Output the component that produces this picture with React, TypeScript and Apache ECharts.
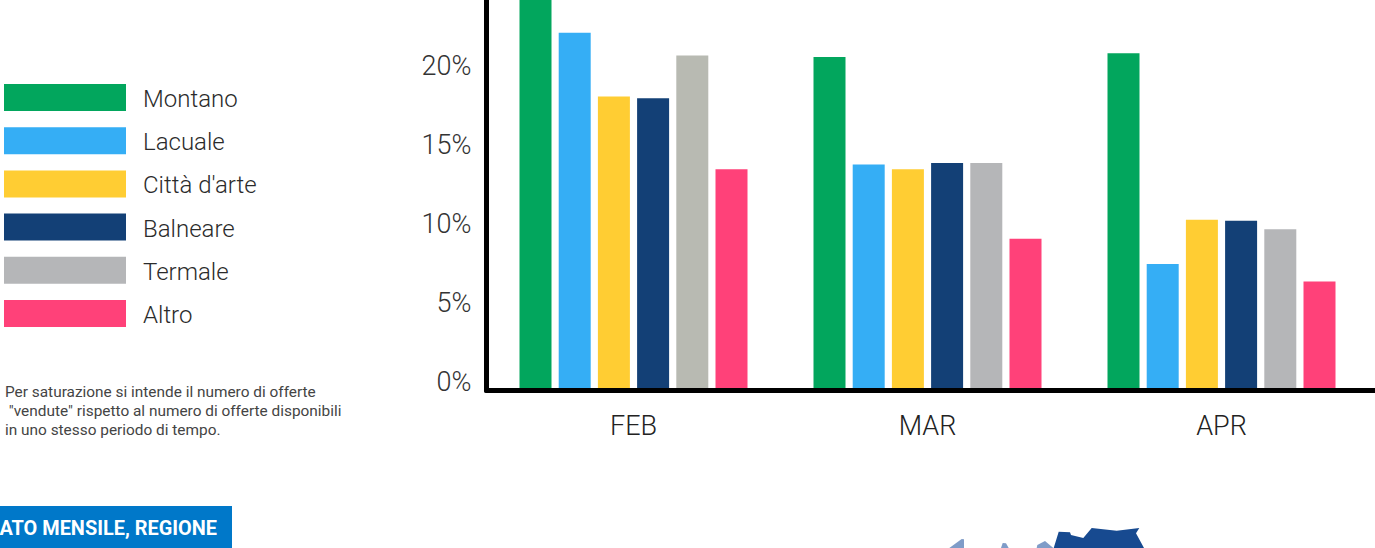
import React, { useEffect, useRef } from "react";
import * as echarts from "echarts";

const categories = ["FEB", "MAR", "APR"];
const seriesNames = ["Montano", "Lacuale", "Città d'arte", "Balneare", "Termale", "Altro"];
const colors = ["#02A65D", "#35AEF5", "#FFCD33", "#134076", "#B5B6B8", "#FF4179"];
const montano = [25, 21.1, 21.35];
const lacuale = [22.65, 14.3, 8.0];
const cittaArte = [18.6, 14.0, 10.8];
const balneare = [18.5, 14.4, 10.75];
const termale = [21.2, 14.4, 10.2];
const altro = [14.0, 9.6, 6.9];
const values = [montano, lacuale, cittaArte, balneare, termale, altro];
const noteLines = [
  "Per saturazione si intende il numero di offerte",
  ' "vendute" rispetto al numero di offerte disponibili',
  "in uno stesso periodo di tempo.",
];
const banner = "ATO MENSILE, REGIONE";
const FONT = "Roboto";

export default function App() {
  const ref = useRef<HTMLDivElement>(null);
  useEffect(() => {
    document.body.style.margin = "0";
    document.body.style.background = "#fff";
    const chart = echarts.init(ref.current!, undefined, { renderer: "svg" });
    chart.setOption({
      animation: false,
      backgroundColor: "#fff",
      textStyle: { fontFamily: FONT },
      grid: { left: 486.5, top: -4.5, width: 882, height: 395, outerBoundsMode: "none" },
      legend: {
        orient: "vertical",
        left: 4,
        top: 84,
        padding: 0,
        itemWidth: 122,
        itemHeight: 27,
        itemGap: 16.2,
        icon: "rect",
        selectedMode: false,
        itemStyle: { borderWidth: 0 },
        formatter: "{t|{name}}",
        textStyle: {
          fontFamily: FONT,
          color: "#2b2b2b",
          rich: {
            t: { fontFamily: FONT, fontSize: 24, fontWeight: 300, color: "#2b2b2b", lineHeight: 23, padding: [3, 0, 0, 12] },
          },
        },
        data: seriesNames,
      },
      xAxis: {
        type: "category",
        data: categories,
        z: 5,
        axisLine: { show: true, lineStyle: { color: "#000", width: 5 } },
        axisTick: { show: false },
        axisLabel: { fontFamily: FONT, fontSize: 27, fontWeight: 300, color: "#222", margin: 22 },
      },
      yAxis: {
        type: "value",
        min: 0,
        max: 25,
        interval: 5,
        z: 5,
        axisLine: { show: true, lineStyle: { color: "#000", width: 5 } },
        axisTick: { show: false },
        splitLine: { show: false },
        axisLabel: {
          fontFamily: FONT,
          fontSize: 27,
          fontWeight: 300,
          color: "#333",
          margin: 15,
          verticalAlign: "bottom",
          lineHeight: 17,
          formatter: (v: number) => (v === 25 ? "" : v + "%"),
        },
      },
      series: seriesNames.map((name, i) => ({
        name,
        type: "bar",
        data: values[i].map((v, j) =>
          i === 4 && j === 0 ? { value: v, itemStyle: { color: "#B8BAB2" } } : v
        ),
        barWidth: 32,
        barGap: "22.5%",
        itemStyle: { color: colors[i] },
      })),
      graphic: [
        { type: "rect", z: 10, shape: { x: 1360, y: 388, width: 15, height: 5 }, style: { fill: "#000" } },
        ...noteLines.map((t, i) => ({
          type: "text",
          x: 5,
          y: 391.5 + i * 19.3,
          style: { text: t, fontFamily: FONT, fontSize: 15.4, fill: "#444", verticalAlign: "middle" },
        })),
        { type: "rect", shape: { x: 0, y: 506, width: 232, height: 42 }, style: { fill: "#0078C9" } },
        {
          type: "text",
          x: 217,
          y: 528,
          style: { text: banner, fontFamily: FONT, fontSize: 19.9, fontWeight: 700, fill: "#fff", align: "right", verticalAlign: "middle" },
        },
        { type: "polygon", shape: { points: [[949.3, 548], [961.7, 539], [964, 539.3], [964, 548]] }, style: { fill: "#7F9CC8" } },
        { type: "polygon", shape: { points: [[1001, 548], [1002.7, 543], [1006, 543.3], [1008.7, 548]] }, style: { fill: "#7F9CC8" } },
        { type: "polygon", shape: { points: [[1036.7, 548], [1037.3, 545], [1045, 541], [1053.3, 548]] }, style: { fill: "#7F9CC8" } },
        {
          type: "polygon",
          shape: { points: [[1053.7, 548], [1058.7, 531.7], [1070, 532.3], [1071, 535], [1083.3, 538], [1091.7, 528], [1116.7, 530.7], [1139.3, 528], [1136, 533.3], [1144, 548]] },
          style: { fill: "#174A90" },
        },
      ],
    });
    return () => chart.dispose();
  }, []);
  return <div ref={ref} style={{ position: "absolute", left: 0, top: 0, width: 1375, height: 548 }} />;
}
